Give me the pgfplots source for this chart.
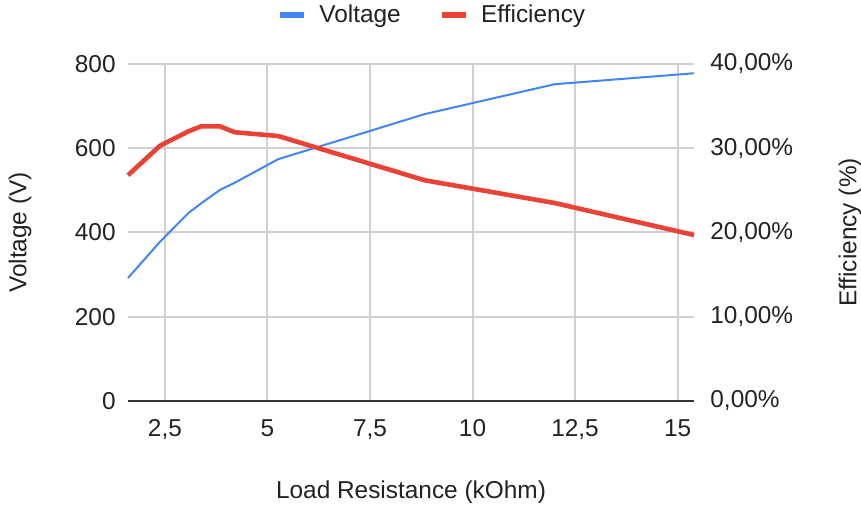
\documentclass[border=0pt]{standalone}
\usepackage{fontspec}
\setmainfont{Liberation Sans}
\usepackage{pgfplots}
\pgfplotsset{compat=1.18}
\definecolor{gblue}{HTML}{4285F4}
\definecolor{gred}{HTML}{EA4335}
\definecolor{gridgray}{HTML}{D0D0D0}
\definecolor{txt}{HTML}{222222}
\newcommand{\fs}{\fontsize{12.2}{14}\selectfont}
\begin{document}
\begin{tikzpicture}
\useasboundingbox (-64pt,-55.5pt) rectangle (366.5pt,200.5pt);
\pgfplotsset{
  common/.style={
    scale only axis, width=283pt, height=168.5pt,
    xmin=1.6, xmax=15.4, clip=false,
    major tick length=0pt,
    tick label style={font=\fs, text=txt},
  }
}
\begin{axis}[common,
  ymin=0, ymax=800,
  xtick={2.5,5,7.5,10,12.5,15},
  xticklabels={{2,5},5,{7,5},10,{12,5},15},
  ytick={0,200,400,600,800},
  yticklabels={0,200,400,600,800},
  grid=major, grid style={draw=gridgray, line width=1pt},
  axis y line*=left, axis x line*=bottom,
  y axis line style={draw=none},
  x axis line style={draw=black!80, line width=0.6pt, -},
  xticklabel style={inner sep=0pt, anchor=north, yshift=-9pt},
  yticklabel style={inner sep=0pt, anchor=east, xshift=-6pt},
  every axis x label/.style={at={([yshift=-45.5pt]axis description cs:0.5,0)}, anchor=center, font=\fs, text=txt},
  every axis y label/.style={at={([xshift=-54pt]axis description cs:0,0.5)}, rotate=90, anchor=center, font=\fs, text=txt},
  xlabel={Load Resistance (kOhm)},
  ylabel={Voltage (V)},
  legend style={at={([yshift=24.5pt]axis description cs:0.539,1)}, anchor=center, draw=none, fill=none,
    legend columns=2, font=\fs, text=txt,
    /tikz/every odd column/.append style={column sep=4pt},
    /tikz/every even column/.append style={column sep=17pt}},
  legend image code/.code={\draw[#1, line width=3.2pt] (0pt,0pt) -- (12pt,0pt);},
]
\addplot[gblue, line width=1pt, mark=none] coordinates {
(1.6,292) (2.38,378) (3.07,446) (3.38,469) (3.84,501) (4.20,518) (5.26,574) (8.83,681) (12.0,752) (15.4,778)
};
\addlegendentry{Voltage}
\addlegendimage{gred, line width=2.3pt}
\addlegendentry{Efficiency}
\end{axis}
\begin{axis}[common,
  ymin=0, ymax=40,
  axis y line*=right, axis x line=none,
  y axis line style={draw=none},
  ytick={0,10,20,30,40},
  yticklabels={{0,00\%},{10,00\%},{20,00\%},{30,00\%},{40,00\%}},
  yticklabel style={inner sep=0pt, anchor=west, xshift=8pt},
  every axis y label/.style={at={([xshift=78pt]axis description cs:1,0.5)}, rotate=90, anchor=center, font=\fs, text=txt},
  ylabel={Efficiency (\%)},
]
\addplot[gred, line width=2.3pt, mark=none, line join=round] coordinates {
(1.6,26.8) (2.38,30.3) (3.07,32.0) (3.38,32.6) (3.84,32.6) (4.20,31.9) (5.26,31.45) (8.83,26.2) (12.0,23.5) (15.4,19.7)
};
\end{axis}
\end{tikzpicture}
\end{document}
